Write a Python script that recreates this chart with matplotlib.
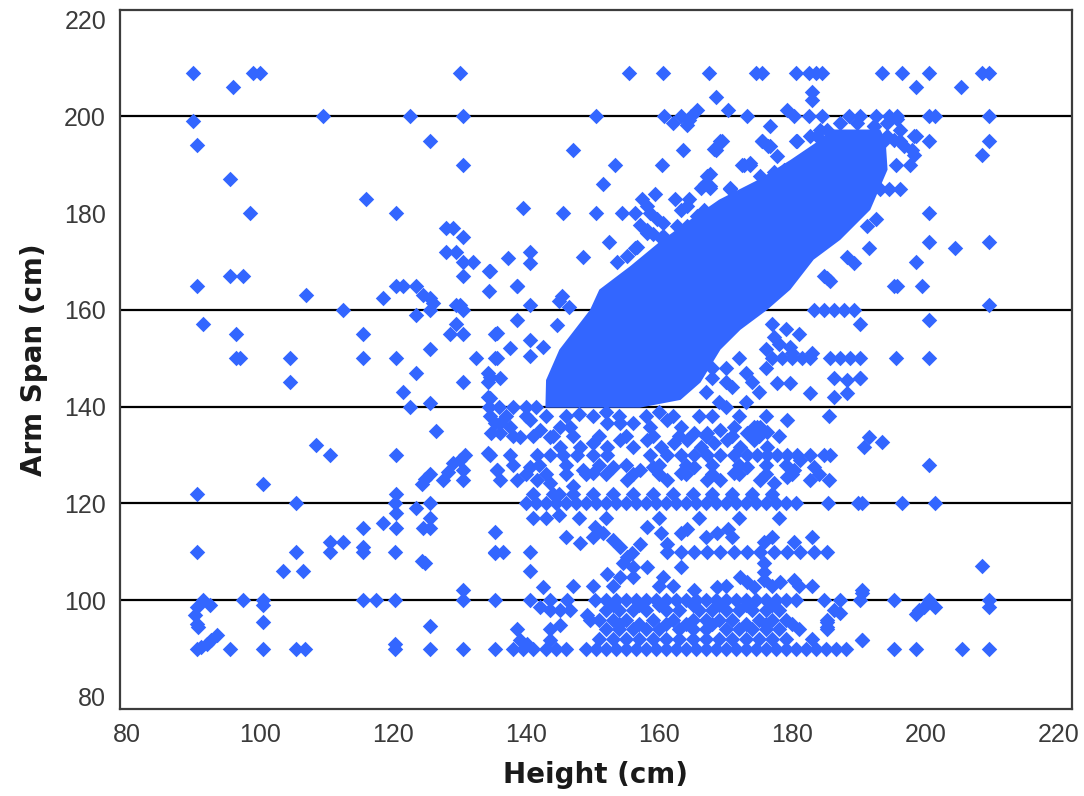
import matplotlib.pyplot as plt

# DENSE CORE OF THE CLOUD (outline of the saturated region, height / arm span in cm)
core_height = [142.9, 143.0, 145.0, 149.6, 151.0, 155.6, 160.0, 164.7, 169.0, 175.0, 179.7, 184.2,
               185.7, 193.2, 194.0, 194.3, 191.7, 187.2, 183.2, 179.7, 176.2, 172.2, 169.2, 166.2,
               163.2, 157.1]
core_span = [139.8, 145.5, 151.8, 160.0, 164.2, 169.0, 174.0, 178.7, 182.8, 187.0, 191.0, 195.2,
             197.3, 197.3, 195.2, 189.0, 180.7, 174.5, 170.4, 164.2, 160.0, 155.9, 151.8, 145.0,
             141.4, 139.8]

# HORIZONTAL STREAKS (heights of cases sharing one arm span)
row209_height = [90, 99, 100, 130, 155.5, 160.5, 167.5, 174.5, 175.5, 180.5, 182.5, 183.5, 184.5,
                 193.5, 196.5, 200.5, 208.5, 209.5]
row200_height = [109.5, 122.5, 130.5, 150.5, 160.7, 163.2, 164.7, 173.2, 180.2, 182.5, 184.5,
                 188.5, 190.2, 192.5, 194.5, 195.7, 200.5, 201.5, 209.5]
row185_height = [193.2, 194.5, 196.2]
row180_height = [98.5, 120.5, 145.5, 150.5, 154.4, 156.4, 158.6, 200.5]
row165_height = [90.5, 120.5, 121.5, 123.5, 138.6, 195.7, 199.5]
row160_height = [112.5, 125.5, 130.5, 183.2, 184.7, 186.2, 187.7, 189.2]
row150_height = [96.5, 97, 104.5, 115.5, 120.5, 132.5, 135.3, 177, 178.5, 180, 181.5, 182.7,
                 185.7, 187.2, 188.7, 190.2, 195.5, 200.5]
row140_height = [134.5, 136, 138, 140, 141.5]
row138_height = [137, 140, 143, 146, 150, 154, 158, 162, 168, 172, 176]
row134_height = [138, 141, 144, 147, 151, 155, 159, 163, 167, 171, 175, 178]
row130_height = [110.5, 120.5, 134.6, 137.6, 141.6, 143.6, 145.6, 147.6, 150.1, 152.1, 158.6,
                 161.2, 163.2, 165.2, 167.2, 169.2, 171.2, 173.2, 174.7, 176.2, 177.7, 179.2,
                 180.7, 182.7, 184.7, 185.7]
row128_height = [138, 142, 146, 151, 155, 160, 164, 168, 172, 176, 179]
row126_height = [140, 143, 146, 149, 152, 156, 160, 164, 168, 172, 176, 180, 184]
row122_height = [141, 144, 147, 150, 153, 156, 159, 162, 165, 168, 171, 174, 177]
row120_height = [105.5, 120.3, 125.5, 140, 141.5, 143, 144.5, 146, 147.5, 149, 150.5, 152, 153.5,
                 155, 156.5, 158, 159.5, 161, 162.5, 164, 165.5, 167, 168.5, 170, 171.5, 173,
                 174.5, 176, 177.5, 179, 180.5, 185.4, 189.8, 190.5, 196.5, 201.5]
row117_height = [141, 143, 148, 152, 160, 166, 172, 178]
row113_height = [146, 150, 167, 171, 177, 183]
row110_height = [90.5, 105.5, 110.5, 115.5, 120.3, 135.3, 136.6, 140.6, 161.2, 163.2, 165.2,
                 167.2, 169.2, 171.2, 173.2, 175.2, 177.2, 179.2, 181.2, 183.2, 185.2]
row103_height = [147, 150, 153, 160, 162, 170, 177, 181, 183]
row100_height = [91.5, 97.5, 100.5, 115.5, 117.5, 120.3, 130.5, 135.3, 140.6, 143.6, 146.1,
                 150.4, 152, 153.5, 155, 156.5, 158, 159.5, 161, 162.5, 164, 165.5, 167, 168.5,
                 170, 171.5, 173, 174.5, 176, 177.5, 179, 180.5, 184.7, 187.2, 190.2, 195.2,
                 200.5, 209.5]
row99_height = [153, 157, 160, 165, 169, 173, 177]
row98_height = [152, 154, 156, 158, 161, 163, 166, 168, 170, 172, 174, 176, 178, 186.2]
row96_height = [151, 153, 155, 159, 162, 165, 167, 169, 171, 175, 177, 179, 185.2]
row95_height = [154, 157, 161, 164, 168, 173, 176, 180]
row94_height = [152, 154, 156, 158, 160, 163, 165, 167, 170, 172, 174, 176, 178, 181, 185.2]
row92_height = [151, 153, 155, 157, 159, 161, 163, 165, 167, 169, 171, 173, 175, 177, 179, 183]
row90_height = [90.5, 95.5, 100.5, 105.5, 106.8, 120.3, 125.5, 130.5, 135.3, 138, 139.5, 141,
                143, 144.5, 146, 149, 150.5, 152, 153.5, 155, 156.5, 158, 159.5, 161, 162.5,
                164, 165.5, 167, 168.5, 170, 171.5, 173, 174.5, 176, 177.5, 179, 180.5, 182,
                183.5, 185, 186.5, 188, 195.2, 198.5, 205.5, 209.5]

row_spans = [209, 200, 185, 180, 165, 160, 150, 140, 138, 134, 130, 128, 126, 122, 120, 117,
             113, 110, 103, 100, 99, 98, 96, 95, 94, 92, 90]
row_heights = [row209_height, row200_height, row185_height, row180_height, row165_height,
               row160_height, row150_height, row140_height, row138_height, row134_height,
               row130_height, row128_height, row126_height, row122_height, row120_height,
               row117_height, row113_height, row110_height, row103_height, row100_height,
               row99_height, row98_height, row96_height, row95_height, row94_height,
               row92_height, row90_height]

# SCATTERED CASES (height, arm span)
short_cases = [
    (96, 206), (90, 199), (90.5, 194), (125.5, 195), (130.5, 190), (95.5, 187), (116, 183),
    (128, 177), (129, 177), (130.5, 175), (128, 172), (129.5, 172), (130.5, 170), (132, 170),
    (134.5, 168), (130.5, 167), (134.5, 164), (95.5, 167), (97.5, 167), (107, 163),
    (118.5, 162.5), (124.5, 163), (125.5, 162.5), (126, 161.5), (123.5, 159), (129.5, 161),
    (130, 161), (129.5, 157), (128.5, 155), (130.5, 155), (135.3, 155), (91.5, 157),
    (96.5, 155), (115.5, 155), (125.5, 152), (123.5, 147), (134.3, 147), (104.5, 145),
    (130.5, 145), (134.3, 145), (134.3, 142), (121.5, 143), (122.5, 140), (125.5, 140.7),
    (126.5, 135), (108.5, 132), (134.3, 130.4), (135.3, 136.6), (134.8, 134.5),
    (135.6, 127), (130.8, 130), (130, 129), (129, 128.4), (128.3, 126.5), (127.5, 124.8),
    (130.5, 127), (130.5, 124.8), (125.5, 126), (124.8, 125), (124.3, 124), (120.5, 122),
    (120.5, 118), (123.5, 119), (125.5, 117), (100.5, 124), (90.5, 122), (115.5, 115),
    (118.5, 116), (120.5, 115), (124.5, 115), (125.5, 115), (110.5, 112), (112.5, 112),
    (115.5, 111), (124.3, 108), (124.8, 107.6), (103.5, 106), (106.5, 106), (92.5, 99),
    (100.5, 99), (130.5, 102), (90.5, 98.6), (90.3, 97), (90.5, 95), (90.7, 94.5),
    (91.2, 90.3), (92, 91), (92.7, 91.7), (93.5, 92.8), (100.5, 95.5), (120.3, 91),
    (125.5, 94.6), (135.3, 114), (135.3, 109.7),
]

tall_cases = [
    (183, 205), (183, 203.5), (168.5, 204), (198.5, 206), (205.3, 206), (209.5, 195),
    (208.5, 192), (198.5, 196), (200.5, 195), (195.2, 195.2), (196.7, 193.9), (195.5, 190),
    (197.7, 190), (198.2, 192), (193.5, 194.5), (192.2, 198), (195.7, 199.4), (185.2, 197.3),
    (183.7, 196), (186.2, 195), (185.2, 193.9), (200.5, 174), (204.5, 172.8), (209.5, 174),
    (191.5, 172.8), (198.5, 170), (209.5, 161), (200.5, 158), (190.2, 157), (190.2, 146),
    (191.5, 133.8), (190.7, 131.7), (193.5, 132.8), (200.5, 128), (208.5, 107),
    (190.5, 101.4), (198.5, 97.2), (199, 98), (199.7, 98.6), (201.5, 98.6), (209.5, 98.6),
    (190.5, 91.7), (188.2, 171), (189.2, 169.7), (185.2, 166.6), (195.2, 164.9),
    (192.5, 178.7), (191.2, 177.3), (177.2, 154.5), (179.7, 152.4), (186.2, 145.9),
    (188.2, 145.5), (190.2, 145.9), (188.2, 142.8), (186.2, 142.1), (182.7, 142.8),
    (179.7, 144.9), (177.7, 144.9), (185.5, 138), (179.2, 137.3), (175.2, 135.9),
    (176.2, 134.8), (174.2, 135.9), (180.2, 126.9), (182.7, 124.8), (185.5, 124.8),
    (183.2, 127.6), (181.2, 129), (187.2, 97.3), (185.2, 95.5), (185.2, 94.5), (190.5, 102),
    (189.7, 198.7), (192.2, 198), (194.2, 198.7), (196.2, 197.3), (198.2, 195.9),
    (194.2, 196), (196.2, 195), (198, 193), (184.7, 167), (185.7, 166),
]

cloud_edge_cases = [
    (147, 193), (163.5, 193), (168.6, 193), (169.4, 195), (175.4, 195), (176.4, 193.9),
    (180.5, 195), (153.4, 190), (160.4, 190), (172.4, 190), (173.7, 190), (167.6, 188),
    (166.9, 186), (166.2, 185.2), (151.6, 186), (170.6, 185), (157.4, 183), (159.4, 184),
    (162.4, 183), (164.4, 183), (139.5, 181), (158.1, 176.6), (159.1, 175.6), (160.2, 174.9),
    (152.4, 174), (156.4, 172.8), (148.6, 171), (140.6, 172), (140.6, 169.7), (137.3, 170.7),
    (134.6, 168), (145.4, 162.8), (162, 198.7), (164.2, 198.3), (164.4, 199.2),
    (165.7, 201.4), (170.4, 201.4), (176.6, 198), (179.2, 201.4), (158.1, 181.4),
    (159.6, 178.7), (160.6, 178), (162.7, 177.3), (164.2, 177.3), (165.7, 179.4),
    (166.7, 180.7), (163.2, 180.7), (164.2, 181.4), (157.1, 177.6), (158.1, 175.9),
    (160.6, 175.2), (162.1, 173.8), (156.6, 173.1), (155.1, 171.1), (153.6, 170),
    (138.6, 164.9), (140.6, 161.1), (144.9, 161.8), (146.4, 160.7), (138.6, 158),
    (135.6, 155.2), (137.6, 152.1), (135.6, 150), (134.6, 146.2), (136.1, 145.9),
    (134.6, 141.8), (140.6, 153.8), (140.6, 150.4), (142.6, 152.4), (144.6, 156.9),
    (167.7, 185.2), (168.2, 193.2), (169.2, 195), (175.4, 195), (176.6, 193.9),
    (180.7, 195), (177.7, 191.8), (172.7, 190), (173.7, 190.4), (167.2, 187.6),
    (167.7, 185.6), (170.7, 185.2), (175.2, 187.6), (177.2, 188.6), (178.7, 189),
    (182.7, 195.9), (184.2, 197.3), (187.2, 198.7),
    (177, 157), (179, 156), (181, 155), (178, 153), (180, 151), (176, 152), (183, 151),
    (172, 150), (173, 147), (174, 145), (175, 143), (171, 144), (173, 141), (170, 148),
    (168, 146), (176, 148), (167, 143), (169, 141), (170, 145), (168, 148),
]

band_cases = [
    (134.6, 138), (136.1, 136.6), (137.6, 135.9), (136.1, 134.5), (139.1, 133.8),
    (140.6, 137.3), (142.1, 135.2), (143.6, 133.8), (145.1, 135.9), (146.6, 135.9),
    (148.1, 131.7), (145.1, 131.7), (140.6, 127.6), (138.6, 124.8), (136.1, 124.8),
    (135.6, 126.9), (141.6, 124.8), (143.6, 124.2), (152.1, 136.6), (154.1, 136.6),
    (156.1, 136.6), (158.6, 135.9), (161.2, 137.3), (163.2, 135.9), (165.2, 134.5),
    (167.2, 134.5), (169.2, 135.2), (171.2, 135.9), (173.2, 134.5), (174.7, 135.9),
    (150.1, 132.4), (152.1, 131.7), (154.1, 133.1), (156.1, 131.7), (158.1, 133.1),
    (160.2, 131.7), (162.2, 132.4), (164.2, 133.1), (166.2, 131.7), (168.2, 132.4),
    (170.2, 133.1), (172.2, 131.7), (174.2, 133.1), (176.2, 131.7), (150.1, 126.2),
    (153.1, 127.6), (155.1, 124.8), (157.1, 126.9), (159.1, 127.6), (161.2, 124.8),
    (163.2, 126.2), (165.2, 127.6), (167.2, 124.8), (169.2, 124.8), (171.2, 126.2),
    (173.2, 127.6), (175.2, 124.8), (177.2, 124.2), (179.2, 125.5), (148, 138.5),
    (152, 139), (160, 139), (166, 138), (170, 140), (145, 122), (147, 123.5), (148.5, 127),
    (145, 117.6), (142.6, 102.7), (140.6, 106), (150.4, 115.2), (151.6, 113.8),
    (153.1, 112.4), (154.1, 111), (155.1, 109), (156.1, 106.9), (158.1, 115.2),
    (157.1, 111.7), (155.9, 109.7), (154.6, 107.6), (160.2, 113.8), (161.2, 111.7),
    (163.2, 113.8), (164.2, 114.8), (168.7, 113.8), (170.4, 114.8), (175.7, 112),
    (180.2, 112), (172.2, 104.8), (173.2, 103.8), (174.2, 102.8), (175.7, 107.6),
    (175.7, 105.9), (175.7, 104.1), (178.2, 103.8), (180.2, 104.1), (152.1, 105.5),
    (154.1, 104.8), (156.1, 104.8), (158.1, 106.9), (160.6, 104.8), (163.2, 106.9),
    (165.2, 102), (168.7, 102.8), (148.1, 111.8), (149.1, 96.9), (149.6, 95.9),
    (143.6, 97.9), (145.1, 97.9), (146.6, 97.9), (142.1, 98.6), (138.6, 94.1),
    (143.6, 94.1), (145.1, 94.8), (139.1, 91.7), (140.1, 91), (143.6, 91.7), (190.5, 91.7),
]

# AXES SETUP
x_ticks = [80, 100, 120, 140, 160, 180, 200, 220]
y_ticks = [80, 100, 120, 140, 160, 180, 200, 220]
ref_lines = [100, 120, 140, 160, 200]

POINT_COLOR = "#3366ff"
POINT_SIZE = 62

fig = plt.figure(figsize=(10.84, 7.96), dpi=100)
ax = fig.add_axes([0.1107, 0.1093, 0.8782, 0.8781])

# REFERENCE LINES
for y in ref_lines:
    ax.axhline(y, color="black", linewidth=1.6, zorder=1)

# SATURATED CORE
ax.fill(core_height, core_span, color=POINT_COLOR, linewidth=0, zorder=2)

# STREAK POINTS
for span, heights in zip(row_spans, row_heights):
    ax.scatter(heights, [span] * len(heights), marker="D", s=POINT_SIZE,
               color=POINT_COLOR, linewidths=0, zorder=3)

# SCATTERED POINTS
for group in [short_cases, tall_cases, cloud_edge_cases, band_cases]:
    hx = [p[0] for p in group]
    sy = [p[1] for p in group]
    ax.scatter(hx, sy, marker="D", s=POINT_SIZE, color=POINT_COLOR, linewidths=0, zorder=3)

ax.set_xlim(79, 222)
ax.set_ylim(77.5, 222)
ax.set_xticks(x_ticks)
ax.set_yticks(y_ticks)

for spine in ax.spines.values():
    spine.set_color("#3c3c3c")
    spine.set_linewidth(1.6)

ax.tick_params(length=0, pad=10, labelsize=18, labelcolor="#3a3a3a")
for lab in ax.get_xticklabels() + ax.get_yticklabels():
    lab.set_fontfamily("Liberation Sans")

ax.set_xlabel("Height (cm)", fontsize=20, fontweight="bold", color="#1a1a1a",
              labelpad=10)
ax.set_ylabel("Arm Span (cm)", fontsize=20, fontweight="bold", color="#1a1a1a",
              labelpad=12)

fig.savefig("out.png", dpi=100, facecolor="white")
plt.close(fig)
